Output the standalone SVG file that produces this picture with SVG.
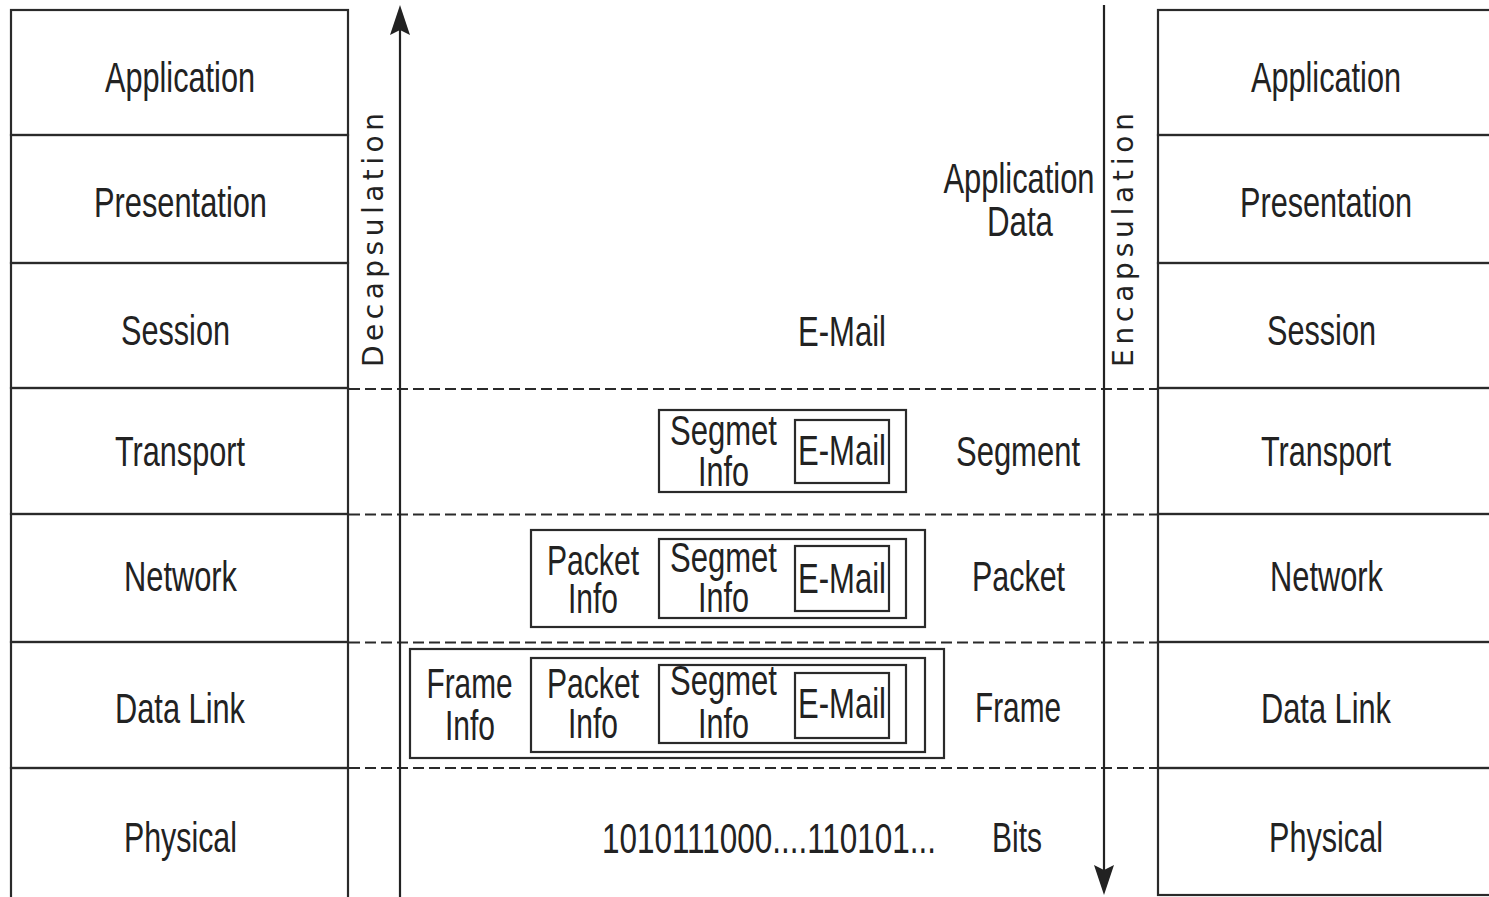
<svg xmlns="http://www.w3.org/2000/svg" width="1489" height="897" viewBox="0 0 1489 897">
<style>
.cell{fill:none;stroke:#2a2a2a;stroke-width:2.2}
.bx{fill:none;stroke:#2a2a2a;stroke-width:2.2}
.t{font-family:"Liberation Sans Narrow","Liberation Sans",Arial,sans-serif;font-size:42px;fill:#222;text-anchor:middle}
.r{font-family:"DejaVu Sans","Liberation Sans",Arial,sans-serif;font-size:28px;fill:#222;text-anchor:middle}
.dash{stroke:#2a2a2a;stroke-width:2;stroke-dasharray:11 5;fill:none}
.ax{stroke:#222;stroke-width:2.2;fill:none}
.ah{fill:#222;stroke:none}
</style>
<rect width="1489" height="897" fill="#fff"/>

<g id="left-stack">
<g id="l-application"><rect class="cell" x="11" y="10" width="337" height="125"/><text class="t" x="180" y="92" textLength="150" lengthAdjust="spacingAndGlyphs">Application</text></g>
<g id="l-presentation"><rect class="cell" x="11" y="135" width="337" height="128"/><text class="t" x="180.5" y="217" textLength="173" lengthAdjust="spacingAndGlyphs">Presentation</text></g>
<g id="l-session"><rect class="cell" x="11" y="263" width="337" height="125"/><text class="t" x="175.5" y="345" textLength="109" lengthAdjust="spacingAndGlyphs">Session</text></g>
<g id="l-transport"><rect class="cell" x="11" y="388" width="337" height="126"/><text class="t" x="180" y="466" textLength="130" lengthAdjust="spacingAndGlyphs">Transport</text></g>
<g id="l-network"><rect class="cell" x="11" y="514" width="337" height="128"/><text class="t" x="180.5" y="591" textLength="113" lengthAdjust="spacingAndGlyphs">Network</text></g>
<g id="l-datalink"><rect class="cell" x="11" y="642" width="337" height="126"/><text class="t" x="180" y="723" textLength="130" lengthAdjust="spacingAndGlyphs">Data Link</text></g>
<g id="l-physical"><rect class="cell" x="11" y="768" width="337" height="132"/><text class="t" x="180.5" y="852" textLength="113" lengthAdjust="spacingAndGlyphs">Physical</text></g>
</g>

<g id="right-stack">
<g id="r-application"><rect class="cell" x="1158" y="10" width="337" height="125"/><text class="t" x="1326" y="92" textLength="150" lengthAdjust="spacingAndGlyphs">Application</text></g>
<g id="r-presentation"><rect class="cell" x="1158" y="135" width="337" height="128"/><text class="t" x="1326" y="217" textLength="172" lengthAdjust="spacingAndGlyphs">Presentation</text></g>
<g id="r-session"><rect class="cell" x="1158" y="263" width="337" height="125"/><text class="t" x="1321.5" y="345" textLength="109" lengthAdjust="spacingAndGlyphs">Session</text></g>
<g id="r-transport"><rect class="cell" x="1158" y="388" width="337" height="126"/><text class="t" x="1326" y="466" textLength="130" lengthAdjust="spacingAndGlyphs">Transport</text></g>
<g id="r-network"><rect class="cell" x="1158" y="514" width="337" height="128"/><text class="t" x="1326.5" y="591" textLength="113" lengthAdjust="spacingAndGlyphs">Network</text></g>
<g id="r-datalink"><rect class="cell" x="1158" y="642" width="337" height="126"/><text class="t" x="1326" y="723" textLength="130" lengthAdjust="spacingAndGlyphs">Data Link</text></g>
<g id="r-physical"><rect class="cell" x="1158" y="768" width="337" height="127"/><text class="t" x="1326" y="852" textLength="114" lengthAdjust="spacingAndGlyphs">Physical</text></g>
</g>

<g id="connectors">
<line class="dash" x1="349" y1="389" x2="1157" y2="389"/>
<line class="dash" x1="349" y1="514.5" x2="1157" y2="514.5"/>
<line class="dash" x1="349" y1="642.5" x2="1157" y2="642.5"/>
<line class="dash" x1="349" y1="768" x2="1157" y2="768"/>
<line class="ax" x1="400" y1="897" x2="400" y2="20"/>
<path class="ah" d="M400,5 L410,35 L400,30 L390,35 Z"/>
<line class="ax" x1="1104" y1="5" x2="1104" y2="880"/>
<path class="ah" d="M1104,895 L1094,865 L1104,870 L1114,865 Z"/>
</g>

<g id="label-decapsulation"><text class="r" transform="translate(383,240) rotate(-90)" x="0" y="0" textLength="254" lengthAdjust="spacing">Decapsulation</text></g>
<g id="label-encapsulation"><text class="r" transform="translate(1133,240) rotate(-90)" x="0" y="0" textLength="254" lengthAdjust="spacing">Encapsulation</text></g>

<g id="app-data"><text class="t" x="1019" y="193" textLength="151" lengthAdjust="spacingAndGlyphs">Application</text><text class="t" x="1020" y="236" textLength="66" lengthAdjust="spacingAndGlyphs">Data</text></g>
<g id="email-session"><text class="t" x="842" y="346" textLength="88" lengthAdjust="spacingAndGlyphs">E-Mail</text></g>

<g id="segment">
<rect class="bx" x="659" y="410" width="247" height="82"/>
<rect class="bx" x="795" y="420" width="94" height="63"/>
<text class="t" x="723.5" y="445" textLength="107" lengthAdjust="spacingAndGlyphs">Segmet</text>
<text class="t" x="723.5" y="486" textLength="51" lengthAdjust="spacingAndGlyphs">Info</text>
<text class="t" x="842" y="465" textLength="88" lengthAdjust="spacingAndGlyphs">E-Mail</text>
<text class="t" x="1018" y="466" textLength="124" lengthAdjust="spacingAndGlyphs">Segment</text>
</g>

<g id="packet">
<rect class="bx" x="531" y="530" width="394" height="97"/>
<rect class="bx" x="659" y="539" width="247" height="79"/>
<rect class="bx" x="795" y="546" width="94" height="65"/>
<text class="t" x="593" y="575" textLength="92" lengthAdjust="spacingAndGlyphs">Packet</text>
<text class="t" x="593" y="613" textLength="50" lengthAdjust="spacingAndGlyphs">Info</text>
<text class="t" x="723.5" y="572" textLength="107" lengthAdjust="spacingAndGlyphs">Segmet</text>
<text class="t" x="723.5" y="612" textLength="51" lengthAdjust="spacingAndGlyphs">Info</text>
<text class="t" x="842" y="593" textLength="88" lengthAdjust="spacingAndGlyphs">E-Mail</text>
<text class="t" x="1018.5" y="591" textLength="93" lengthAdjust="spacingAndGlyphs">Packet</text>
</g>

<g id="frame">
<rect class="bx" x="410" y="649" width="534" height="109"/>
<rect class="bx" x="531" y="658" width="394" height="94"/>
<rect class="bx" x="659" y="665" width="247" height="78"/>
<rect class="bx" x="795" y="673" width="94" height="65"/>
<text class="t" x="469.5" y="698" textLength="86" lengthAdjust="spacingAndGlyphs">Frame</text>
<text class="t" x="470" y="740" textLength="50" lengthAdjust="spacingAndGlyphs">Info</text>
<text class="t" x="593" y="698" textLength="92" lengthAdjust="spacingAndGlyphs">Packet</text>
<text class="t" x="593" y="738" textLength="50" lengthAdjust="spacingAndGlyphs">Info</text>
<text class="t" x="723.5" y="695" textLength="107" lengthAdjust="spacingAndGlyphs">Segmet</text>
<text class="t" x="723.5" y="738" textLength="51" lengthAdjust="spacingAndGlyphs">Info</text>
<text class="t" x="842" y="718" textLength="88" lengthAdjust="spacingAndGlyphs">E-Mail</text>
<text class="t" x="1018" y="722" textLength="86" lengthAdjust="spacingAndGlyphs">Frame</text>
</g>

<g id="bits">
<text class="t" x="769" y="853" textLength="334" lengthAdjust="spacingAndGlyphs">1010111000....110101...</text>
<text class="t" x="1017" y="852" textLength="50" lengthAdjust="spacingAndGlyphs">Bits</text>
</g>
</svg>
